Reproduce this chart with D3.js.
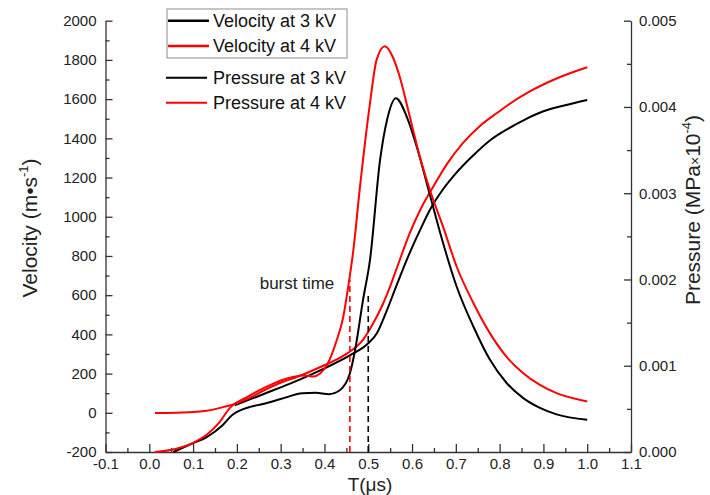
<!DOCTYPE html>
<html>
<head>
<meta charset="utf-8">
<script src="https://cdn.jsdelivr.net/npm/d3@7"></script>
<style>
  html, body { margin: 0; padding: 0; background: #fff; }
  svg { display: block; font-family: "Liberation Sans", Arial, sans-serif; }
  .axis text { fill: #222; font-size: 15px; }
  .axis path, .axis line { stroke: #333; stroke-width: 1.3; }
</style>
</head>
<body>
<svg id="chart" width="710" height="495"></svg>
<script>
// Velocity at 3 kV (m/s) versus time (µs)
const vel3Time = [0.055, 0.10, 0.13, 0.168, 0.19, 0.205, 0.23, 0.26, 0.30, 0.35, 0.38, 0.41, 0.435, 0.458, 0.47, 0.488, 0.504, 0.527, 0.543, 0.563, 0.588, 0.611, 0.641, 0.664, 0.702, 0.74, 0.778, 0.816, 0.854, 0.892, 0.93, 1.0];
const vel3Value = [-200, -155, -125, -62, -10, 10, 30, 45, 70, 100, 102, 95, 115, 200, 320, 575, 780, 1290, 1495, 1605, 1510, 1355, 1110, 920, 643, 440, 270, 152, 75, 25, -8, -36];

// Velocity at 4 kV (m/s)
const vel4Time = [0.013, 0.06, 0.10, 0.131, 0.161, 0.184, 0.223, 0.268, 0.30, 0.328, 0.355, 0.374, 0.39, 0.406, 0.428, 0.443, 0.454, 0.466, 0.481, 0.504, 0.519, 0.538, 0.556, 0.572, 0.595, 0.618, 0.641, 0.671, 0.702, 0.74, 0.778, 0.816, 0.854, 0.892, 0.93, 1.0];
const vel4Value = [-200, -185, -153, -112, -46, 25, 80, 133, 165, 183, 190, 185, 200, 245, 370, 490, 640, 830, 1150, 1580, 1800, 1870, 1815, 1713, 1510, 1305, 1135, 948, 745, 560, 405, 285, 202, 142, 100, 58];

// Pressure at 3 kV (MPa×10^-4)
const pres3Time = [0.195, 0.26, 0.32, 0.40, 0.458, 0.50, 0.52, 0.54, 0.56, 0.58, 0.60, 0.62, 0.64, 0.67, 0.70, 0.74, 0.78, 0.82, 0.86, 0.90, 0.95, 1.0];
const pres3Value = [0.00054, 0.00067, 0.00079, 0.00097, 0.00112, 0.00126, 0.00138, 0.00161, 0.00187, 0.00213, 0.00237, 0.00259, 0.00280, 0.00304, 0.00323, 0.00344, 0.00362, 0.00375, 0.00386, 0.00395, 0.00402, 0.00408];

// Pressure at 4 kV (MPa×10^-4)
const pres4Time = [0.013, 0.06, 0.10, 0.131, 0.168, 0.19, 0.23, 0.26, 0.298, 0.337, 0.397, 0.451, 0.488, 0.51, 0.533, 0.55, 0.57, 0.595, 0.62, 0.65, 0.68, 0.716, 0.755, 0.794, 0.83, 0.869, 0.93, 1.0];
const pres4Value = [0.000452, 0.000455, 0.000465, 0.000478, 0.00052, 0.000548, 0.00063, 0.00071, 0.00080, 0.00087, 0.00100, 0.00114, 0.00130, 0.00148, 0.00171, 0.00192, 0.00220, 0.00254, 0.00282, 0.00309, 0.00334, 0.00358, 0.00378, 0.00393, 0.00406, 0.00418, 0.00433, 0.00446];

// Burst time markers (µs) and the velocity where each dashed line stops
const burstTime = [0.458, 0.50];
const burstTop = [680, 600];
const burstColor = ["#ff0000", "#000000"];

// Axis ticks
const timeTicks = [-0.1, 0.0, 0.1, 0.2, 0.3, 0.4, 0.5, 0.6, 0.7, 0.8, 0.9, 1.0, 1.1];
const velocityTicks = [-200, 0, 200, 400, 600, 800, 1000, 1200, 1400, 1600, 1800, 2000];
const pressureTicks = [0, 0.001, 0.002, 0.003, 0.004, 0.005];

const legendLabels = ["Velocity at 3 kV", "Velocity at 4 kV", "Pressure at 3 kV", "Pressure at 4 kV"];
const seriesColors = ["#000000", "#ff0000", "#000000", "#ff0000"];

const svg = d3.select("#chart");

const x = d3.scaleLinear().domain([-0.1, 1.1]).range([105.5, 631]);
const yV = d3.scaleLinear().domain([-200, 2000]).range([452, 20.7]);
const yP = d3.scaleLinear().domain([0, 0.005]).range([452, 20.7]);

// minor tick positions
const minorTime = d3.range(-0.05, 1.1, 0.1).map(d => +d.toFixed(2));
const minorVel = d3.range(-100, 2000, 200);
const minorPres = d3.range(0.0005, 0.005, 0.001).map(d => +d.toFixed(4));

// bottom axis
svg.append("g").attr("class", "axis")
  .attr("transform", "translate(0,452)")
  .call(d3.axisBottom(x).tickValues(timeTicks)
    .tickSizeInner(-8).tickSizeOuter(0).tickPadding(6))
  .call(g => g.selectAll("text").text(d => d3.format(".1f")(d).replace("−", "-")));
svg.append("g").attr("class", "axis")
  .attr("transform", "translate(0,452)")
  .call(d3.axisBottom(x).tickValues(minorTime).tickFormat("").tickSizeInner(-4).tickSizeOuter(0))
  .call(g => g.select(".domain").remove());

// left axis
svg.append("g").attr("class", "axis")
  .attr("transform", "translate(105.5,0)")
  .call(d3.axisLeft(yV).tickValues(velocityTicks).tickFormat(d => String(d))
    .tickSizeInner(-7).tickSizeOuter(0).tickPadding(9));
svg.append("g").attr("class", "axis")
  .attr("transform", "translate(105.5,0)")
  .call(d3.axisLeft(yV).tickValues(minorVel).tickFormat("").tickSizeInner(-4).tickSizeOuter(0))
  .call(g => g.select(".domain").remove());

// right axis
svg.append("g").attr("class", "axis")
  .attr("transform", "translate(631,0)")
  .call(d3.axisRight(yP).tickValues(pressureTicks).tickFormat(d3.format(".3f"))
    .tickSizeInner(-7).tickSizeOuter(0).tickPadding(8));
svg.append("g").attr("class", "axis")
  .attr("transform", "translate(631,0)")
  .call(d3.axisRight(yP).tickValues(minorPres).tickFormat("").tickSizeInner(-4).tickSizeOuter(0))
  .call(g => g.select(".domain").remove());

// axis titles
const yTitle = svg.append("text")
  .attr("transform", "translate(37,228) rotate(-90)")
  .attr("text-anchor", "middle")
  .attr("font-size", 21).attr("fill", "#222");
yTitle.append("tspan").text("Velocity (m•s");
yTitle.append("tspan").attr("font-size", 13).attr("dy", -9).text("-1");
yTitle.append("tspan").attr("dy", 9).text(")");

const pTitle = svg.append("text")
  .attr("transform", "translate(700,210) rotate(-90)")
  .attr("text-anchor", "middle")
  .attr("font-size", 21).attr("fill", "#222");
pTitle.append("tspan").text("Pressure (MPa");
pTitle.append("tspan").attr("font-size", 14).text("×");
pTitle.append("tspan").text("10");
pTitle.append("tspan").attr("font-size", 13).attr("dy", -9).text("-4");
pTitle.append("tspan").attr("dy", 9).text(")");

svg.append("text")
  .attr("x", 370).attr("y", 491)
  .attr("text-anchor", "middle")
  .attr("font-size", 19).attr("fill", "#222")
  .text("T(μs)");

// curves
const plot = svg.append("g");
const lineV = d3.line().x(d => x(d[0])).y(d => yV(d[1])).curve(d3.curveMonotoneX);
const lineP = d3.line().x(d => x(d[0])).y(d => yP(d[1])).curve(d3.curveMonotoneX);

const pressureSeries = [d3.zip(pres3Time, pres3Value), d3.zip(pres4Time, pres4Value)];
const velocitySeries = [d3.zip(vel3Time, vel3Value), d3.zip(vel4Time, vel4Value)];

pressureSeries.forEach((s, i) => {
  plot.append("path").datum(s)
    .attr("fill", "none").attr("stroke", seriesColors[i + 2]).attr("stroke-width", 2)
    .attr("d", lineP);
});
velocitySeries.forEach((s, i) => {
  plot.append("path").datum(s)
    .attr("fill", "none").attr("stroke", seriesColors[i]).attr("stroke-width", 2)
    .attr("d", lineV);
});

// burst time dashed markers
burstTime.forEach((t, i) => {
  svg.append("line")
    .attr("x1", x(t)).attr("x2", x(t))
    .attr("y1", yV(-200)).attr("y2", yV(burstTop[i]))
    .attr("stroke", burstColor[i]).attr("stroke-width", 1.6)
    .attr("stroke-dasharray", "6,4");
});
svg.append("text")
  .attr("x", 297).attr("y", 289)
  .attr("text-anchor", "middle")
  .attr("font-size", 17).attr("fill", "#222")
  .text("burst time");

// legend
svg.append("rect")
  .attr("x", 167).attr("y", 9).attr("width", 180).attr("height", 49)
  .attr("fill", "#fff").attr("stroke", "#a0a0a0").attr("stroke-width", 1.2);
const legendY = [20.7, 46, 77.7, 102.7];
const legendX0 = [168, 168, 166, 166];
legendLabels.forEach((label, i) => {
  svg.append("line")
    .attr("x1", legendX0[i]).attr("x2", legendX0[i] + 41)
    .attr("y1", legendY[i]).attr("y2", legendY[i])
    .attr("stroke", seriesColors[i]).attr("stroke-width", i < 2 ? 2.4 : 2);
  svg.append("text")
    .attr("x", 213).attr("y", legendY[i]).attr("dy", "0.36em")
    .attr("font-size", 18).attr("fill", "#111")
    .text(label);
});
</script>
</body>
</html>
